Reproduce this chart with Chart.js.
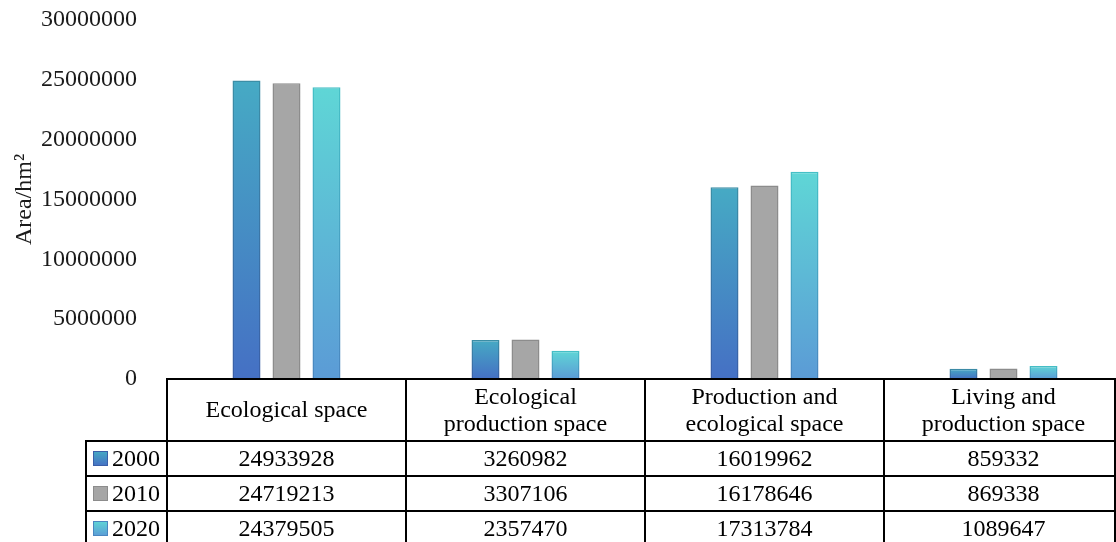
<!DOCTYPE html>
<html>
<head>
<meta charset="utf-8">
<script src="https://cdn.jsdelivr.net/npm/chart.js@4.4.1/dist/chart.umd.min.js"></script>
<style>
  html, body { margin: 0; padding: 0; background: #ffffff; overflow: hidden; }
  #frame { width: 1116px; height: 542px; overflow: hidden; position: relative; }
  #c { position: absolute; left: 0; top: 0; }
</style>
</head>
<body>
<div id="frame"><canvas id="c" width="1124" height="542"></canvas></div>
<script>
// ---- data ----
const categories = [
  ["Ecological space"],
  ["Ecological", "production space"],
  ["Production and", "ecological space"],
  ["Living and", "production space"]
];
const seriesNames = ["2000", "2010", "2020"];
const values2000 = [24933928, 3260982, 16019962, 859332];
const values2010 = [24719213, 3307106, 16178646, 869338];
const values2020 = [24379505, 2357470, 17313784, 1089647];
const yTickValues = [0, 5000000, 10000000, 15000000, 20000000, 25000000, 30000000];
const yAxisTitle = "Area/hm\u00B2";

// ---- styles ----
const FONT = '"Liberation Serif", "Times New Roman", serif';
const FONT_SIZE = 24;
const seriesStyles = [
  { top: "#46aac4", bottom: "#4570c4", borderTop: "#3b8ea6", borderBottom: "#3a5fa8" },
  { top: "#a6a6a6", bottom: "#a6a6a6", borderTop: "#8c8c8c", borderBottom: "#8c8c8c" },
  { top: "#5fd6d6", bottom: "#5b9bd6", borderTop: "#45c0c6", borderBottom: "#4a86c0" }
];
const TABLE = {
  headerHeight: 62,
  rowHeight: 35,
  legendColWidth: 81,
  visibleRight: 1115,
  headerLineGap: 26.5,
  lineWidth: 2,
  swatch: 15
};

function verticalGradient(topColor, bottomColor) {
  return (ctx) => {
    const chart = ctx.chart;
    const y = chart.scales && chart.scales.y;
    if (!y || typeof ctx.raw !== "number") return bottomColor;
    const y0 = y.getPixelForValue(ctx.raw);
    const y1 = y.getPixelForValue(0);
    if (!isFinite(y0) || !isFinite(y1) || Math.abs(y1 - y0) < 1) return bottomColor;
    const g = chart.ctx.createLinearGradient(0, y0, 0, y1);
    g.addColorStop(0, topColor);
    g.addColorStop(1, bottomColor);
    return g;
  };
}

const seriesValues = [values2000, values2010, values2020];
const datasets = seriesNames.map((name, i) => ({
  label: name,
  data: seriesValues[i],
  backgroundColor: verticalGradient(seriesStyles[i].top, seriesStyles[i].bottom),
  borderColor: verticalGradient(seriesStyles[i].borderTop, seriesStyles[i].borderBottom),
  borderWidth: 1.5,
  categoryPercentage: 0.502,
  barPercentage: 0.7
}));

// Data table drawn under the plot, aligned to the category scale
const dataTablePlugin = {
  id: "dataTable",
  afterDraw(chart) {
    const { ctx, chartArea: area, scales: { x } } = chart;
    const n = categories.length;
    const half = (x.getPixelForValue(1) - x.getPixelForValue(0)) / 2;
    const edges = [];
    for (let i = 0; i < n; i++) edges.push(x.getPixelForValue(i) - half);
    edges.push(x.getPixelForValue(n - 1) + half);
    const right = Math.min(edges[n], TABLE.visibleRight);
    const top = area.bottom;
    const rowTops = [top + TABLE.headerHeight];
    for (let r = 1; r <= seriesNames.length; r++) rowTops.push(rowTops[0] + r * TABLE.rowHeight);
    const bottom = rowTops[rowTops.length - 1];
    const leftCol = edges[0] - TABLE.legendColWidth;

    ctx.save();
    ctx.strokeStyle = "#000000";
    ctx.lineWidth = TABLE.lineWidth;
    ctx.lineCap = "square";
    ctx.beginPath();
    // header top / axis line
    ctx.moveTo(edges[0], top); ctx.lineTo(right, top);
    // row lines
    rowTops.forEach((ry) => { ctx.moveTo(leftCol, ry); ctx.lineTo(right, ry); });
    // column lines
    for (let i = 0; i < n; i++) { ctx.moveTo(edges[i], top); ctx.lineTo(edges[i], bottom); }
    ctx.moveTo(right, top); ctx.lineTo(right, bottom);
    ctx.moveTo(leftCol, rowTops[0]); ctx.lineTo(leftCol, bottom);
    ctx.stroke();

    ctx.fillStyle = "#000000";
    ctx.font = FONT_SIZE + "px " + FONT;
    ctx.textAlign = "center";
    ctx.textBaseline = "middle";
    // header labels
    const headerMid = top + TABLE.headerHeight / 2;
    categories.forEach((lines, i) => {
      const cx = x.getPixelForValue(i);
      const startY = headerMid - (lines.length - 1) * TABLE.headerLineGap / 2;
      lines.forEach((ln, k) => ctx.fillText(ln, cx, startY + k * TABLE.headerLineGap + 1));
    });
    // value rows
    seriesValues.forEach((vals, r) => {
      const cy = rowTops[r] + TABLE.rowHeight / 2 + 1;
      vals.forEach((v, i) => ctx.fillText(String(v), x.getPixelForValue(i), cy));
      // legend key + series name
      const sx = leftCol + 7;
      const sy = rowTops[r] + TABLE.rowHeight / 2 - TABLE.swatch / 2;
      const st = seriesStyles[r];
      const g = ctx.createLinearGradient(0, sy, 0, sy + TABLE.swatch);
      g.addColorStop(0, st.top); g.addColorStop(1, st.bottom);
      ctx.fillStyle = g;
      ctx.fillRect(sx, sy, TABLE.swatch, TABLE.swatch);
      ctx.lineWidth = 1;
      ctx.strokeStyle = st.borderBottom;
      ctx.strokeRect(sx + 0.5, sy + 0.5, TABLE.swatch - 1, TABLE.swatch - 1);
      ctx.fillStyle = "#000000";
      ctx.textAlign = "left";
      ctx.fillText(seriesNames[r], sx + TABLE.swatch + 4, cy);
      ctx.textAlign = "center";
    });
    ctx.restore();
  }
};

new Chart(document.getElementById("c"), {
  type: "bar",
  data: { labels: categories, datasets },
  options: {
    responsive: false,
    animation: false,
    devicePixelRatio: 1,
    layout: { padding: { left: 0, right: 1, top: 20, bottom: 163 } },
    plugins: { legend: { display: false }, tooltip: { enabled: false } },
    scales: {
      x: { display: false },
      y: {
        min: yTickValues[0],
        max: yTickValues[yTickValues.length - 1],
        afterFit(scale) {
          scale.width = 167;
          scale.paddingTop = 0;
          scale.paddingBottom = 0;
        },
        afterBuildTicks(scale) { scale.ticks = yTickValues.map((v) => ({ value: v })); },
        grid: { display: false, drawTicks: false },
        border: { display: false },
        ticks: {
          padding: 30,
          color: "#1a1a1a",
          font: { family: FONT, size: FONT_SIZE },
          callback: (v) => String(v)
        },
        title: {
          display: true,
          text: yAxisTitle,
          color: "#1a1a1a",
          font: { family: FONT, size: FONT_SIZE },
          padding: { top: 10, bottom: 0 }
        }
      }
    }
  },
  plugins: [dataTablePlugin]
});
</script>
</body>
</html>
